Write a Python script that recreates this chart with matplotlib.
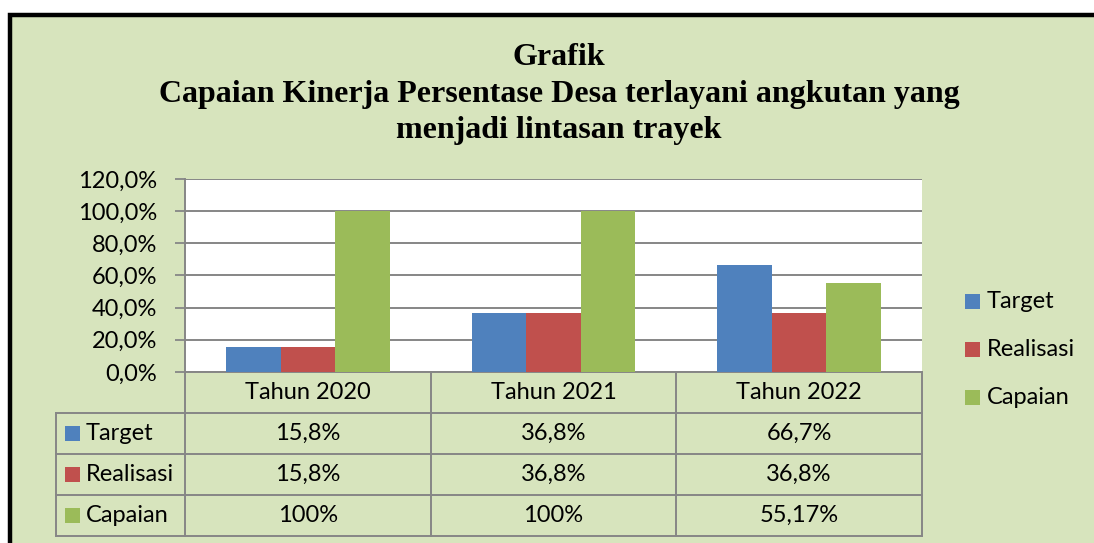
import matplotlib
matplotlib.use("Agg")
import matplotlib.pyplot as plt
import matplotlib.transforms as mtransforms
from matplotlib.patches import Rectangle
from matplotlib.lines import Line2D
import numpy as np

# ==========================================
# DATA
# ==========================================
YEARS = ["Tahun 2020", "Tahun 2021", "Tahun 2022"]
SERIES = ["Target", "Realisasi", "Capaian"]
TARGET = [15.8, 36.8, 66.7]
REALISASI = [15.8, 36.8, 36.8]
CAPAIAN = [100.0, 100.0, 55.17]
TABLE_TEXT = [
    ["15,8%", "36,8%", "66,7%"],
    ["15,8%", "36,8%", "36,8%"],
    ["100%", "100%", "55,17%"],
]
Y_TICKS = [0, 20, 40, 60, 80, 100, 120]
TITLE_LINES = [
    "Grafik",
    "Capaian Kinerja Persentase Desa terlayani angkutan yang",
    "menjadi lintasan trayek",
]

COLORS = ["#4F81BD", "#C0504D", "#9BBB59"]
BG = "#D7E4BD"
GRID = "#868686"
SANS = ["Lato", "DejaVu Sans"]
SERIF = ["Liberation Serif", "DejaVu Serif"]
FS = 17

W, H = 1094, 543
fig = plt.figure(figsize=(W / 100, H / 100), dpi=100, facecolor="white")


def fx(px):
    return px / W


def fy(py):
    return 1 - py / H


# background panel with thick black border (cut off at right and bottom)
fig.patches.append(Rectangle((fx(10), fy(560)), fx(1110) - fx(10), fy(15) - fy(560),
                             transform=fig.transFigure, facecolor=BG,
                             edgecolor="black", linewidth=3.2, zorder=-5))

# title
for txt, base in zip(TITLE_LINES, [65, 102, 138]):
    fig.text(fx(559), fy(base), txt, ha="center", va="baseline",
             fontsize=23, fontweight="bold", family=SERIF)

# plot area
L, R, T, B = 185, 922, 179, 372
ax = fig.add_axes([fx(L), fy(B), fx(R) - fx(L), fy(T) - fy(B)])
ax.set_zorder(2)
ax.set_facecolor("white")
x = np.arange(len(YEARS))
bw = 0.222
for i, (vals, c) in enumerate(zip([TARGET, REALISASI, CAPAIAN], COLORS)):
    ax.bar(x + (i - 1) * bw, vals, width=bw, color=c, zorder=3)

ax.set_xlim(-0.5, len(YEARS) - 0.5)
ax.set_ylim(0, 120)
ax.set_yticks(Y_TICKS)
ax.set_yticklabels([f"{v:.1f}%".replace(".", ",") for v in Y_TICKS],
                   fontsize=FS, family=SANS)
ax.tick_params(axis="y", length=7, width=1.3, color=GRID, pad=13)
ax.set_xticks([])
ax.yaxis.grid(True, color=GRID, linewidth=1.4, zorder=0)
ax.set_axisbelow(True)
for s in ["top", "right"]:
    ax.spines[s].set_visible(False)
for s in ["left", "bottom"]:
    ax.spines[s].set_color(GRID)
    ax.spines[s].set_linewidth(1.4)

# data table below the plot (x in data coords, y in figure coords)
trans = mtransforms.blended_transform_factory(ax.transData, fig.transFigure)
rows_y = [372, 413, 454, 495, 536]
edges = np.arange(len(YEARS) + 1) - 0.5
lw = 1.4


def hline(x0, x1, py):
    fig.add_artist(Line2D([fx(x0), fx(x1)], [fy(py), fy(py)], color=GRID,
                          linewidth=lw, transform=fig.transFigure))


def vline(px, y0, y1):
    fig.add_artist(Line2D([fx(px), fx(px)], [fy(y0), fy(y1)], color=GRID,
                          linewidth=lw, transform=fig.transFigure))


for ex in edges:
    fig.add_artist(Line2D([ex, ex], [fy(rows_y[0]), fy(rows_y[-1])], color=GRID,
                          linewidth=lw, transform=trans))
for py in rows_y[1:]:
    hline(56, R, py)
vline(56, rows_y[1], rows_y[-1])

for j, yr in enumerate(YEARS):
    fig.text(x[j], fy((rows_y[0] + rows_y[1]) / 2), yr, transform=trans,
             ha="center", va="center", fontsize=FS, family=SANS)
for i, name in enumerate(SERIES):
    yc = (rows_y[i + 1] + rows_y[i + 2]) / 2
    fig.patches.append(Rectangle((fx(65), fy(yc + 7.5)), fx(15), fy(0) - fy(15),
                                 transform=fig.transFigure, facecolor=COLORS[i],
                                 edgecolor="none"))
    fig.text(fx(86), fy(yc), name, ha="left", va="center", fontsize=FS, family=SANS)
    for j in range(len(YEARS)):
        fig.text(x[j], fy(yc), TABLE_TEXT[i][j], transform=trans,
                 ha="center", va="center", fontsize=FS, family=SANS)

# legend on the right
for i, name in enumerate(SERIES):
    yc = [301, 349, 397][i]
    fig.patches.append(Rectangle((fx(965), fy(yc + 7.5)), fx(15), fy(0) - fy(15),
                                 transform=fig.transFigure, facecolor=COLORS[i],
                                 edgecolor="none"))
    fig.text(fx(987), fy(yc), name, ha="left", va="center", fontsize=FS, family=SANS)

fig.savefig("out.png", dpi=100, facecolor=fig.get_facecolor())
